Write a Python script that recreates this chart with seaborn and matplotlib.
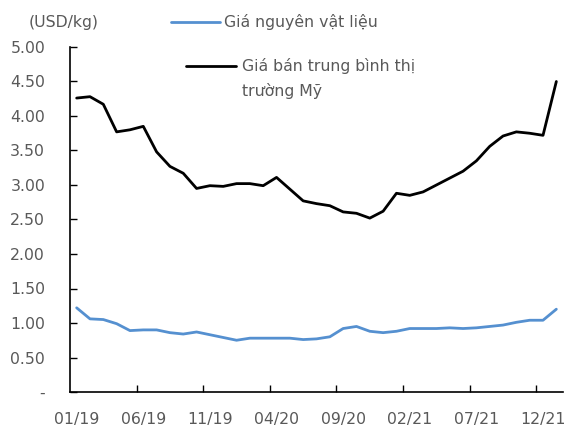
import matplotlib
matplotlib.use("Agg")
import matplotlib.pyplot as plt
from matplotlib.lines import Line2D
import seaborn as sns
import pandas as pd
import numpy as np

months = ["01/19", "02/19", "03/19", "04/19", "05/19", "06/19", "07/19", "08/19", "09/19", "10/19",
          "11/19", "12/19", "01/20", "02/20", "03/20", "04/20", "05/20", "06/20", "07/20", "08/20",
          "09/20", "10/20", "11/20", "12/20", "01/21", "02/21", "03/21", "04/21", "05/21", "06/21",
          "07/21", "08/21", "09/21", "10/21", "11/21", "12/21", "01/22"]
gia_nguyen_vat_lieu = [1.22, 1.06, 1.05, 0.99, 0.89, 0.90, 0.90, 0.86, 0.84, 0.87,
                       0.83, 0.79, 0.75, 0.78, 0.78, 0.78, 0.78, 0.76, 0.77, 0.80,
                       0.92, 0.95, 0.88, 0.86, 0.88, 0.92, 0.92, 0.92, 0.93, 0.92,
                       0.93, 0.95, 0.97, 1.01, 1.04, 1.04, 1.20]
gia_ban_my = [4.26, 4.28, 4.17, 3.77, 3.80, 3.85, 3.48, 3.27, 3.17, 2.95,
              2.99, 2.98, 3.02, 3.02, 2.99, 3.11, 2.94, 2.77, 2.73, 2.70,
              2.61, 2.59, 2.52, 2.62, 2.88, 2.85, 2.90, 3.00, 3.10, 3.20,
              3.35, 3.56, 3.71, 3.77, 3.75, 3.72, 4.50]
label_blue = "Giá nguyên vật liệu"
label_black_1 = "Giá bán trung bình thị"
label_black_2 = "trường Mỹ"
unit_label = "(USD/kg)"
y_ticks = [0, 0.5, 1.0, 1.5, 2.0, 2.5, 3.0, 3.5, 4.0, 4.5, 5.0]

sns.set_theme(style="white")
plt.rcParams["font.family"] = ["DejaVu Sans"]
TXT = "#595959"
FS = 11.3

df = pd.DataFrame({"idx": np.arange(len(months)), "month": months,
                   "blue": gia_nguyen_vat_lieu, "black": gia_ban_my})

fig = plt.figure(figsize=(5.68, 4.26), dpi=100)
ax = fig.add_axes([70 / 568, 1 - 392 / 426, (563 - 70) / 568, (392 - 47) / 426])

sns.lineplot(data=df, x="idx", y="blue", ax=ax, color="#5590d0", linewidth=2.0)
sns.lineplot(data=df, x="idx", y="black", ax=ax, color="#000000", linewidth=2.0)

ax.set_xlim(-0.5, len(months) - 0.5)
ax.set_ylim(0, 5.0)
ax.set_xlabel("")
ax.set_ylabel("")

# y axis
ax.set_yticks(y_ticks)
ax.set_yticklabels(["-" if v == 0 else f"{v:.2f}" for v in y_ticks])
ax.tick_params(axis="y", direction="in", length=5, width=1, color="black",
               labelsize=FS, labelcolor=TXT, pad=18, left=True)

# x axis: labels at every 5th category, tick marks between categories
lab_pos = list(range(0, len(months), 5))
ax.set_xticks(lab_pos)
ax.set_xticklabels([months[i] for i in lab_pos])
ax.tick_params(axis="x", which="major", length=0, labelsize=FS, labelcolor=TXT, pad=14.5)
ax.set_xticks([i - 0.5 for i in range(5, len(months), 5)], minor=True)
ax.tick_params(axis="x", which="minor", direction="in", length=5, width=1, color="black", bottom=True)

for s in ["top", "right"]:
    ax.spines[s].set_visible(False)
for s in ["left", "bottom"]:
    ax.spines[s].set_color("black")
    ax.spines[s].set_linewidth(1.2)
ax.grid(False)

legA = fig.legend([Line2D([], [], color="#5590d0", linewidth=2.0)], [label_blue],
                  loc="center left", bbox_to_anchor=(171 / 568, 1 - 22 / 426),
                  frameon=False, fontsize=FS, handlelength=3.1, handletextpad=0.25,
                  borderpad=0, borderaxespad=0)
for t in legA.get_texts():
    t.set_color(TXT)

legB = fig.legend([Line2D([], [], color="black", linewidth=2.0), Line2D([], [], color="none")],
                  [label_black_1, label_black_2],
                  loc="upper left", bbox_to_anchor=(186 / 568, 1 - 58 / 426),
                  frameon=False, fontsize=FS, handlelength=3.2, handletextpad=0.35,
                  labelspacing=0.55, borderpad=0, borderaxespad=0)
for t in legB.get_texts():
    t.set_color(TXT)

fig.text(29 / 568, 1 - 22 / 426, unit_label, fontsize=FS, color=TXT, ha="left", va="center")

fig.savefig("out.png", dpi=100)
